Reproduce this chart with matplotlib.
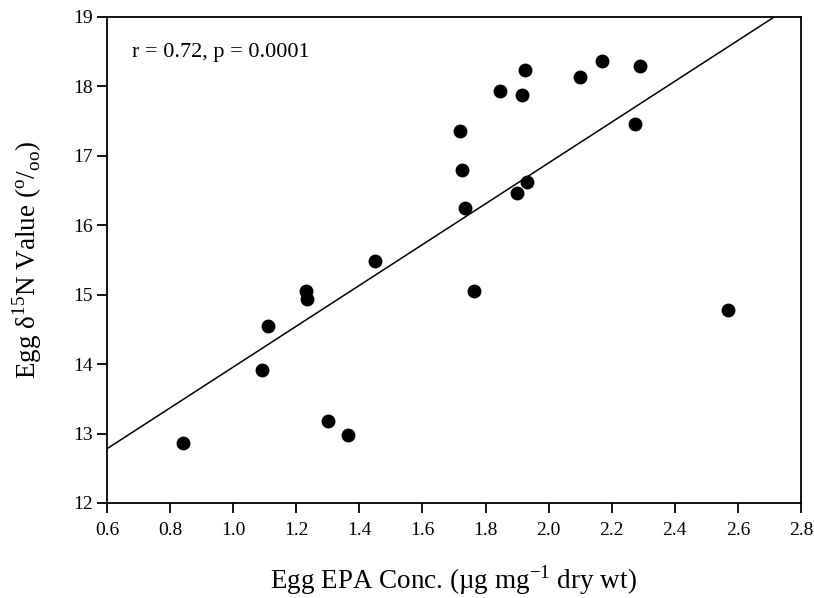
import numpy as np
import matplotlib.pyplot as plt

plt.rcParams['font.family'] = ['Liberation Serif', 'DejaVu Serif']
plt.rcParams['mathtext.fontset'] = 'custom'
plt.rcParams['mathtext.rm'] = 'Liberation Serif'

# egg EPA concentration vs egg d15N
epa = [0.84, 1.09, 1.11, 1.23, 1.235, 1.30, 1.365, 1.45, 1.72, 1.725, 1.735,
       1.765, 1.845, 1.90, 1.915, 1.925, 1.93, 2.10, 2.17, 2.275, 2.29, 2.57]
d15n = [12.87, 13.92, 14.55, 15.05, 14.94, 13.18, 12.98, 15.48, 17.36, 16.79, 16.25,
        15.05, 17.93, 16.46, 17.87, 18.24, 16.63, 18.13, 18.37, 17.46, 18.30, 14.78]
xticks = [0.6, 0.8, 1.0, 1.2, 1.4, 1.6, 1.8, 2.0, 2.2, 2.4, 2.6, 2.8]
yticks = [12, 13, 14, 15, 16, 17, 18, 19]

fig = plt.figure(figsize=(8.14, 5.98), dpi=100)
ax = fig.add_axes([0.1314, 0.1589, 0.8526, 0.8127])

ax.scatter(epa, d15n, s=100, color='black', zorder=3, linewidths=0)

# regression line
slope, intercept = np.polyfit(epa, d15n, 1)
xl = np.array([0.6, 2.8])
ax.plot(xl, slope * xl + intercept, color='black', linewidth=1.1)

ax.set_xlim(0.6, 2.8)
ax.set_ylim(12, 19)
ax.set_xticks(xticks)
ax.set_xticklabels([f"{v:.1f}" for v in xticks])
ax.set_yticks(yticks)
ax.tick_params(direction='out', length=7, width=1.3, labelsize=14, colors='black')
ax.tick_params(axis='x', pad=7)
ax.tick_params(axis='y', pad=3)
for s in ax.spines.values():
    s.set_linewidth(1.3)

ax.text(0.036, 0.926, "r = 0.72, p = 0.0001", transform=ax.transAxes,
        fontsize=16, va='center', ha='left')

fig.text(0.5565, 0.016, r"Egg EPA Conc. (µg mg$^{\mathregular{-1}}$ dry wt)",
         fontsize=19.5, ha='center', va='baseline')
fig.text(0.033, 0.565,
         r"Egg δ$^{\mathregular{15}}$N Value ($^{\mathregular{o}}$/$_{\mathregular{oo}}$)",
         fontsize=19.5, rotation=90, ha='center', va='center')

fig.savefig("out.png", dpi=100)
